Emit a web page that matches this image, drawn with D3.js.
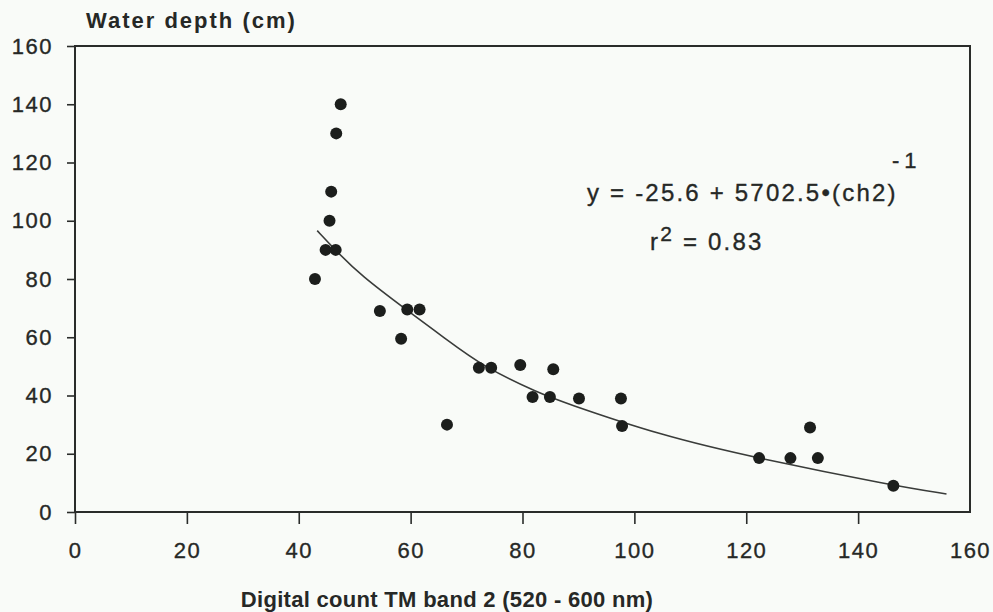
<!DOCTYPE html>
<html>
<head>
<meta charset="utf-8">
<script src="https://cdn.jsdelivr.net/npm/d3@7"></script>
<style>
  html, body { margin: 0; padding: 0; background: #f9fbf8; }
  svg { display: block; }
  text { font-family: "Liberation Sans", Arial, sans-serif; fill: #262826; stroke: #262826; stroke-width: 0.35; }
</style>
</head>
<body>
<svg id="chart" width="993" height="612"></svg>
<script>
// Observations: digital count (TM band 2) vs water depth (cm)
const digitalCount = [47.5, 46.7, 45.8, 45.5, 44.8, 46.6, 42.9,
  54.5, 59.4, 61.6, 58.3, 66.5, 72.2, 74.4, 79.6, 85.5, 81.8, 84.9, 90.1, 97.6, 97.8,
  131.4, 122.3, 127.9, 132.8, 146.3];
const waterDepth = [140, 130, 110, 100, 90, 90, 80,
  69, 69.5, 69.5, 59.5, 30, 49.5, 49.5, 50.5, 49, 39.5, 39.5, 39, 39, 29.5,
  29, 18.5, 18.5, 18.5, 9];

// Fitted curve as drawn in the picture
const curveX = [43.3, 46.6, 51.1, 59.4, 65.9, 73.1, 83.2, 86.8, 104.6, 122.3, 146.3, 155.8];
const curveY = [96.6, 89.8, 81.2, 69.2, 60.0, 49.7, 40.6, 38.0, 26.3, 18.3, 9.1, 6.2];

const xTicks = [0, 20, 40, 60, 80, 100, 120, 140, 160];
const yTicks = [0, 20, 40, 60, 80, 100, 120, 140, 160];

const yTitle = "Water depth (cm)";
const xTitle = "Digital count TM band 2 (520 - 600 nm)";
const equation = "y = -25.6 + 5702.5•(ch2)";
const exponent = "-1";

const svg = d3.select("#chart");
const x = d3.scaleLinear().domain([0, 160]).range([75, 970]);
const y = d3.scaleLinear().domain([0, 160]).range([512, 46]);
const ink = "#2a2c2a";

// Frame
svg.append("rect")
  .attr("x", x(0)).attr("y", y(160))
  .attr("width", x(160) - x(0)).attr("height", y(0) - y(160))
  .attr("fill", "none").attr("stroke", ink).attr("stroke-width", 2);

// Y axis
const yAxis = d3.axisLeft(y).tickValues(yTicks).tickSize(8).tickPadding(14)
  .tickFormat(d3.format("d"));
const gy = svg.append("g").attr("transform", `translate(${x(0)},0)`).call(yAxis);
gy.select(".domain").remove();
gy.selectAll(".tick line").attr("stroke", ink).attr("stroke-width", 1.6);
gy.selectAll(".tick text").attr("font-size", 22).attr("letter-spacing", 1.5)
  .attr("font-family", "Liberation Sans, Arial, sans-serif");

// X axis (ticks 0..140 drawn)
const xAxis = d3.axisBottom(x).tickValues(xTicks).tickSize(0).tickPadding(30)
  .tickFormat(d3.format("d"));
const gx = svg.append("g").attr("transform", `translate(0,${y(0)})`).call(xAxis);
gx.select(".domain").remove();
gx.selectAll(".tick text").attr("font-size", 22).attr("letter-spacing", 1.5)
  .attr("font-family", "Liberation Sans, Arial, sans-serif");
gx.selectAll(".tick").filter(d => d < 160).append("line")
  .attr("y1", 0).attr("y2", 12).attr("stroke", ink).attr("stroke-width", 1.6);

// Titles
svg.append("text").attr("x", 86).attr("y", 28).attr("font-size", 22)
  .attr("font-weight", "bold").attr("letter-spacing", 2).style("stroke-width", 0).text(yTitle);
svg.append("text").attr("x", 447).attr("y", 607).attr("text-anchor", "middle")
  .attr("font-size", 22).attr("font-weight", "bold").attr("letter-spacing", 0.3)
  .style("stroke-width", 0).text(xTitle);

// Curve
const pts = curveX.map((v, i) => [v, curveY[i]]);
svg.append("path").datum(pts)
  .attr("d", d3.line().x(d => x(d[0])).y(d => y(d[1])).curve(d3.curveBasis))
  .attr("fill", "none").attr("stroke", "#3a3c3a").attr("stroke-width", 1.6);

// Points
svg.append("g").selectAll("circle").data(digitalCount.map((v, i) => [v, waterDepth[i]]))
  .join("circle")
  .attr("cx", d => x(d[0])).attr("cy", d => y(d[1])).attr("r", 6)
  .attr("fill", "#1c1e1c");

// Equation
svg.append("text").attr("x", 587).attr("y", 201).attr("font-size", 24)
  .attr("letter-spacing", 2.2).text(equation);
svg.append("text").attr("x", 892).attr("y", 168).attr("font-size", 22)
  .attr("letter-spacing", 5).text(exponent);
const r2 = svg.append("text").attr("x", 650).attr("y", 250).attr("font-size", 24)
  .attr("letter-spacing", 2.2);
r2.append("tspan").text("r");
r2.append("tspan").attr("dy", -9).attr("font-size", 21).text("2");
r2.append("tspan").attr("dy", 9).text(" = 0.83");
</script>
</body>
</html>
